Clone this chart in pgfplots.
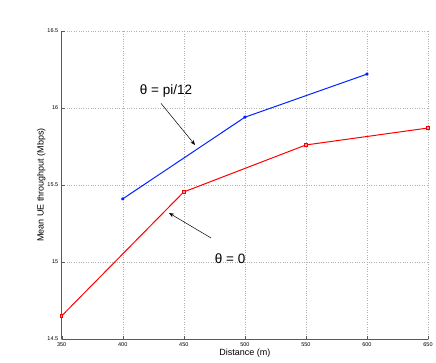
\documentclass[border=0pt]{standalone}
\usepackage{fontspec}
\setmainfont{Liberation Sans}
\usepackage{pgfplots}
\pgfplotsset{compat=1.18}
\usetikzlibrary{arrows.meta}
\begin{document}
\begin{tikzpicture}
\useasboundingbox (0,0) rectangle (436pt,362pt);
\begin{axis}[
  at={(61.7pt,23pt)}, anchor=origin,
  scale only axis, width=366.3pt, height=308pt,
  xmin=350, xmax=650, ymin=14.5, ymax=16.5,
  xtick={350,400,...,650}, ytick={14.5,15,15.5,16,16.5},
  axis lines*=left, axis line style={-, gray!70!black, line width=0.5pt},
  tick align=inside, major tick length=3pt,
  tick style={gray!70!black},
  grid=major, grid style={dotted, gray!60, line width=0.5pt},
  ticklabel style={font=\fontsize{5.5}{6}\selectfont},
  /pgf/number format/assume math mode=true,
  yticklabel style={/pgf/number format/fixed},
  xticklabel style={/pgf/number format/1000 sep={}},
  xlabel={Distance (m)}, ylabel={Mean UE throughput (Mbps)},
  label style={font=\fontsize{9}{10}\selectfont},
  xlabel style={yshift=4pt}, ylabel style={yshift=-5pt},
]
\addplot[red, line width=1pt, mark=square*, mark size=1.2pt, mark options={fill=red!40}]
  coordinates {(350,14.65) (450,15.455) (550,15.76) (650,15.87)};
\addplot[blue!80!cyan!70!blue, line width=1pt, mark=asterisk, mark size=1.5pt]
  coordinates {(400,15.41) (500,15.94) (600,16.22)};
\node[font=\fontsize{13.5}{14}\selectfont] at (axis cs:435.4,16.11) {θ = pi/12};
\draw[-{Stealth[length=5pt,width=4pt]}, line width=0.5pt] (axis cs:431.3,16.03) -- (axis cs:459.2,15.76);
\node[font=\fontsize{13.5}{14}\selectfont] at (axis cs:488,15.02) {θ = 0};
\draw[-{Stealth[length=5pt,width=4pt]}, line width=0.5pt] (axis cs:472.3,15.156) -- (axis cs:437.9,15.318);
\end{axis}
\end{tikzpicture}
\end{document}
